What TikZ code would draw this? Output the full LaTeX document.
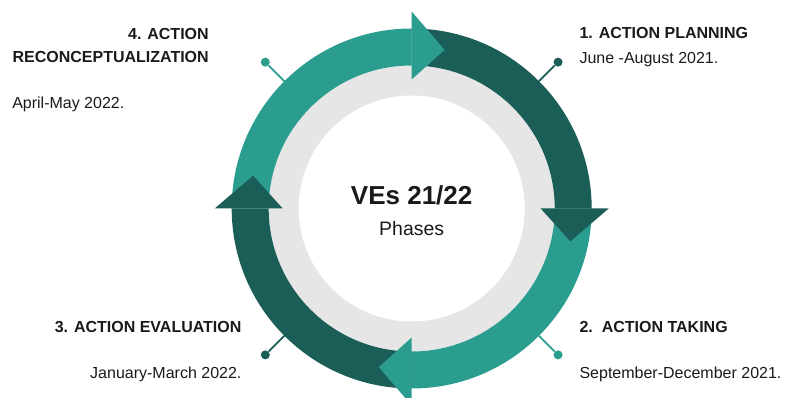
\documentclass[tikz,border=0pt]{standalone}
\usepackage{fontspec}
\setmainfont{Liberation Sans}
\usepackage{xcolor}
\definecolor{tealdark}{HTML}{1B5E57}
\definecolor{teallight}{HTML}{2A9D8F}
\definecolor{ringgray}{HTML}{E6E6E6}
\definecolor{inktext}{HTML}{1A1A1A}

\begin{document}
\begin{tikzpicture}[x=0.75pt,y=0.75pt,
    phase title/.style={font=\fontsize{12}{18}\selectfont\bfseries,text=inktext,inner sep=0pt},
    phase date/.style={font=\fontsize{12}{18}\selectfont,text=inktext,inner sep=0pt},
    pin dot/.style={circle,inner sep=0pt,minimum size=6.75pt},
    pin line/.style={line width=1.3pt}]
    \useasboundingbox (-411.7,-189.5) rectangle (378.3,208.5);

    \fill[ringgray] (0,0) circle[radius=143];
    \fill[white] (0,0) circle[radius=113];

    \coordinate (r1) at (45:180);
    \coordinate (r2) at (-45:180);
    \coordinate (r3) at (-135:180);
    \coordinate (r4) at (135:180);
    \node[pin dot,fill=tealdark] (p1) at (45:207) {};
    \node[pin dot,fill=teallight] (p2) at (-45:207) {};
    \node[pin dot,fill=tealdark] (p3) at (-135:207) {};
    \node[pin dot,fill=teallight] (p4) at (135:207) {};
    \draw[pin line,tealdark] (r1) -- (p1);
    \draw[pin line,teallight] (r2) -- (p2);
    \draw[pin line,tealdark] (r3) -- (p3);
    \draw[pin line,teallight] (r4) -- (p4);

    \fill[tealdark] (90:180) arc[start angle=90,end angle=0,radius=180] -- (0:143) arc[start angle=0,end angle=90,radius=143] -- cycle;
    \fill[teallight] (0:180) arc[start angle=0,end angle=-90,radius=180] -- (-90:143) arc[start angle=-90,end angle=0,radius=143] -- cycle;
    \fill[tealdark] (-90:180) arc[start angle=-90,end angle=-180,radius=180] -- (-180:143) arc[start angle=-180,end angle=-90,radius=143] -- cycle;
    \fill[teallight] (180:180) arc[start angle=180,end angle=90,radius=180] -- (90:143) arc[start angle=90,end angle=180,radius=143] -- cycle;

    \fill[tealdark] (0:129) -- (0:197) -- (-11.7:162) -- cycle;
    \fill[teallight] (-90:129) -- (-90:197) -- (-101.7:162) -- cycle;
    \fill[tealdark] (180:129) -- (180:197) -- (168.3:162) -- cycle;
    \fill[teallight] (90:129) -- (90:197) -- (78.3:162) -- cycle;

    \node[anchor=base,font=\fontsize{19.5}{22}\selectfont\bfseries,text=inktext,inner sep=0pt] (hub) at (0,3.5) {VEs 21/22};
    \node[anchor=base,font=\fontsize{14.6}{18}\selectfont,text=inktext,inner sep=0pt] (hubsub) at (0,-27.2) {Phases};

    \node[phase title,anchor=base west] (t1) at (167.6,169.5) {1. ACTION PLANNING};
    \node[phase date,anchor=base west] (d1) at (167.6,144.5) {June -August 2021.};
    \node[phase title,anchor=base west] (t2) at (167.6,-124.2) {2.\ \ ACTION TAKING};
    \node[phase date,anchor=base west] (d2) at (167.6,-169.8) {September-December 2021.};
    \node[phase title,anchor=base east] (t3) at (-170,-124.2) {3. ACTION EVALUATION};
    \node[phase date,anchor=base east] (d3) at (-170,-169.8) {January-March 2022.};
    \node[phase title,anchor=base east] (t4a) at (-202.7,169.2) {4. ACTION};
    \node[phase title,anchor=base east] (t4b) at (-202.7,145.8) {RECONCEPTUALIZATION};
    \node[phase date,anchor=base west] (d4) at (-399.7,100.2) {April-May 2022.};
\end{tikzpicture}
\end{document}
